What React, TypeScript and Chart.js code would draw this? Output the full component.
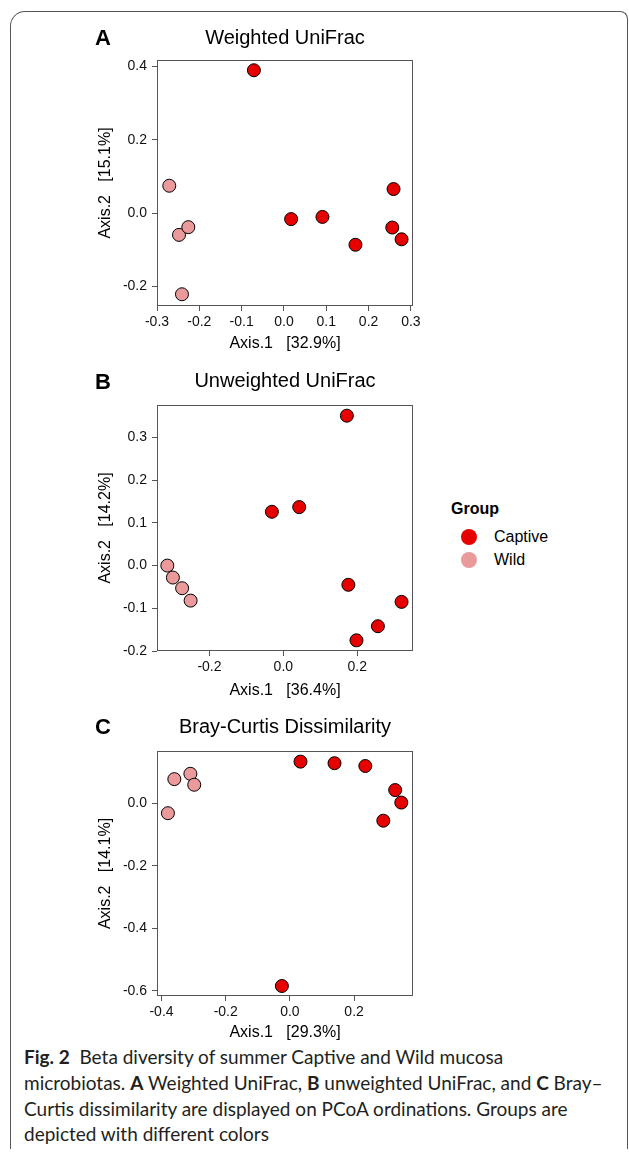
import React, { useEffect, useRef } from "react";
import { Chart, registerables } from "chart.js";

Chart.register(...registerables);

// ---------------- data ----------------
const groups = ["Captive", "Wild"];
const groupColors = ["#E60000", "#EA9A9A"];

// A: Weighted UniFrac
const weightedCaptiveAxis1 = [-0.071, 0.017, 0.091, 0.169, 0.259, 0.256, 0.278];
const weightedCaptiveAxis2 = [0.39, -0.016, -0.01, -0.086, 0.066, -0.039, -0.071];
const weightedWildAxis1 = [-0.271, -0.248, -0.226, -0.241];
const weightedWildAxis2 = [0.075, -0.059, -0.038, -0.221];

// B: Unweighted UniFrac
const unweightedCaptiveAxis1 = [-0.031, 0.043, 0.172, 0.176, 0.32, 0.256, 0.198];
const unweightedCaptiveAxis2 = [0.126, 0.137, 0.351, -0.045, -0.085, -0.142, -0.175];
const unweightedWildAxis1 = [-0.314, -0.299, -0.274, -0.251];
const unweightedWildAxis2 = [0.0, -0.028, -0.053, -0.082];

// C: Bray-Curtis
const brayCaptiveAxis1 = [0.033, 0.139, 0.235, 0.328, 0.347, 0.291, -0.025];
const brayCaptiveAxis2 = [0.133, 0.128, 0.119, 0.042, 0.002, -0.056, -0.585];
const brayWildAxis1 = [-0.38, -0.36, -0.31, -0.298];
const brayWildAxis2 = [-0.032, 0.077, 0.094, 0.059];

// tick labels
const weightedXTicks = [-0.3, -0.2, -0.1, 0.0, 0.1, 0.2, 0.3];
const weightedYTicks = [-0.2, 0.0, 0.2, 0.4];
const unweightedXTicks = [-0.2, 0.0, 0.2];
const unweightedYTicks = [-0.2, -0.1, 0.0, 0.1, 0.2, 0.3];
const brayXTicks = [-0.4, -0.2, 0.0, 0.2];
const brayYTicks = [-0.6, -0.4, -0.2, 0.0];

// axis ranges
const weightedXRange = [-0.3, 0.305];
const weightedYRange = [-0.253, 0.418];
const unweightedXRange = [-0.342, 0.351];
const unweightedYRange = [-0.2, 0.376];
const brayXRange = [-0.414, 0.3835];
const brayYRange = [-0.617, 0.167];

const panelLetters = ["A", "B", "C"];
const panelTitles = ["Weighted UniFrac", "Unweighted UniFrac", "Bray-Curtis Dissimilarity"];
const axis1Titles = ["Axis.1   [32.9%]", "Axis.1   [36.4%]", "Axis.1   [29.3%]"];
const axis2Titles = ["Axis.2   [15.1%]", "Axis.2   [14.2%]", "Axis.2   [14.1%]"];

// ---------------- layout ----------------
const FONT = "'Liberation Sans', Arial, Helvetica, sans-serif";
const CAPTION_FONT = "Lato, 'Open Sans', sans-serif";
const CANVAS_W = 440;
const AREA_LEFT = 157;
const AREA_RIGHT = 413;
const Y_TITLE_X = 105.5;
const AXIS_TITLE_SIZE = 16;
const TITLE_SIZE = 20;
const TICK_SIZE = 14;
const FRAME_COLOR = "#555";

const layouts = [
  { canvasTop: 0, canvasH: 354, areaTop: 60, areaBottom: 306, titleY: 38, xTitleOffset: 37.5, letterY: 38 },
  { canvasTop: 355, canvasH: 346, areaTop: 405, areaBottom: 651, titleY: 381.5, xTitleOffset: 39.5, letterY: 381.7 },
  { canvasTop: 702, canvasH: 342, areaTop: 751, areaBottom: 996, titleY: 727.5, xTitleOffset: 36.5, letterY: 727 },
];

const panels = [
  {
    captive: [weightedCaptiveAxis1, weightedCaptiveAxis2],
    wild: [weightedWildAxis1, weightedWildAxis2],
    xTicks: weightedXTicks, yTicks: weightedYTicks,
    xRange: weightedXRange, yRange: weightedYRange,
  },
  {
    captive: [unweightedCaptiveAxis1, unweightedCaptiveAxis2],
    wild: [unweightedWildAxis1, unweightedWildAxis2],
    xTicks: unweightedXTicks, yTicks: unweightedYTicks,
    xRange: unweightedXRange, yRange: unweightedYRange,
  },
  {
    captive: [brayCaptiveAxis1, brayCaptiveAxis2],
    wild: [brayWildAxis1, brayWildAxis2],
    xTicks: brayXTicks, yTicks: brayYTicks,
    xRange: brayXRange, yRange: brayYRange,
  },
];

const fmt = (v: number) => (Math.abs(v) < 1e-9 ? "0.0" : Number(v).toFixed(1));

const boxPlugin = {
  id: "panelBox",
  beforeDatasetsDraw(chart: any) {
    const { ctx, chartArea: a } = chart;
    ctx.save();
    ctx.strokeStyle = FRAME_COLOR;
    ctx.lineWidth = 1;
    const l = Math.round(a.left) + 0.5;
    const t = Math.round(a.top) + 0.5;
    const r = Math.round(a.right) - 0.5;
    const b = Math.round(a.bottom) - 0.5;
    ctx.strokeRect(l, t, r - l, b - t);
    ctx.restore();
  },
};

function ScatterPanel({ index }: { index: number }) {
  const ref = useRef<HTMLCanvasElement>(null);
  const lay = layouts[index];
  const p = panels[index];
  useEffect(() => {
    if (!ref.current) return;
    const titleLH = TITLE_SIZE * 1.2;
    const axLH = AXIS_TITLE_SIZE * 1.2;
    const titlePadTop = lay.titleY - lay.canvasTop - titleLH / 2;
    const titlePadBottom = lay.areaTop - lay.canvasTop - titlePadTop - titleLH;
    const xScaleH = lay.xTitleOffset + axLH / 2;
    const yScaleW = AREA_LEFT - Y_TITLE_X + axLH / 2;
    const padBottom = lay.canvasTop + lay.canvasH - lay.areaBottom - xScaleH;

    const mk = (xs: number[], ys: number[]) => xs.map((x, i) => ({ x, y: ys[i] }));
    const tickFont = { family: FONT, size: TICK_SIZE };
    const axTitleFont = { family: FONT, size: AXIS_TITLE_SIZE, lineHeight: 1.2 };

    const chart = new Chart(ref.current, {
      type: "scatter",
      data: {
        datasets: [
          {
            label: groups[0],
            data: mk(p.captive[0], p.captive[1]),
            backgroundColor: groupColors[0],
            borderColor: "#000",
            borderWidth: 1,
            pointRadius: 6.5,
            pointHoverRadius: 6.5,
            clip: false,
          },
          {
            label: groups[1],
            data: mk(p.wild[0], p.wild[1]),
            backgroundColor: groupColors[1],
            borderColor: "#000",
            borderWidth: 1,
            pointRadius: 6.5,
            pointHoverRadius: 6.5,
            clip: false,
          },
        ],
      },
      options: {
        responsive: false,
        animation: false,
        events: [],
        layout: {
          padding: {
            left: AREA_LEFT - yScaleW,
            right: CANVAS_W - AREA_RIGHT,
            top: 0,
            bottom: padBottom,
          },
        },
        plugins: {
          legend: { display: false },
          tooltip: { enabled: false },
          title: {
            display: true,
            text: panelTitles[index],
            fullSize: false,
            color: "#000",
            font: { family: FONT, size: TITLE_SIZE, weight: "normal", lineHeight: 1.2 },
            padding: { top: titlePadTop, bottom: titlePadBottom },
          },
        },
        scales: {
          x: {
            type: "linear",
            position: "bottom",
            min: p.xRange[0],
            max: p.xRange[1],
            afterFit: (s: any) => {
              s.height = xScaleH;
            },
            afterBuildTicks: (s: any) => {
              s.ticks = p.xTicks.map((v) => ({ value: v }));
            },
            ticks: {
              autoSkip: false,
              maxRotation: 0,
              minRotation: 0,
              padding: 3,
              color: "#111",
              font: tickFont,
              callback: (v: any) => fmt(Number(v)),
            },
            grid: {
              display: true,
              drawOnChartArea: false,
              drawTicks: true,
              tickLength: 5,
              tickColor: FRAME_COLOR,
              lineWidth: 1,
            },
            border: { display: false },
            title: {
              display: true,
              text: axis1Titles[index],
              color: "#000",
              font: axTitleFont,
              padding: 0,
            },
          },
          y: {
            type: "linear",
            position: "left",
            min: p.yRange[0],
            max: p.yRange[1],
            afterFit: (s: any) => {
              s.width = yScaleW;
            },
            afterBuildTicks: (s: any) => {
              s.ticks = p.yTicks.map((v) => ({ value: v }));
            },
            ticks: {
              autoSkip: false,
              padding: 5,
              color: "#111",
              font: tickFont,
              callback: (v: any) => fmt(Number(v)),
            },
            grid: {
              display: true,
              drawOnChartArea: false,
              drawTicks: true,
              tickLength: 5,
              tickColor: FRAME_COLOR,
              lineWidth: 1,
            },
            border: { display: false },
            title: {
              display: true,
              text: axis2Titles[index],
              color: "#000",
              font: axTitleFont,
              padding: 0,
            },
          },
        },
      },
      plugins: [boxPlugin],
    } as any);
    return () => chart.destroy();
  }, []);
  return (
    <>
      <canvas
        ref={ref}
        width={CANVAS_W}
        height={lay.canvasH}
        style={{ position: "absolute", left: 0, top: lay.canvasTop, display: "block", width: CANVAS_W, height: lay.canvasH }}
      />
      <div
        style={{
          position: "absolute",
          left: 95,
          top: lay.letterY - 0.49 * 22,
          fontFamily: FONT,
          fontWeight: "bold",
          fontSize: 22,
          lineHeight: "22px",
          color: "#000",
        }}
      >
        {panelLetters[index]}
      </div>
    </>
  );
}

function Legend() {
  const rows = [537.3, 560];
  return (
    <div style={{ position: "absolute", left: 0, top: 0, zIndex: 2 }}>
      <div
        style={{
          position: "absolute",
          left: 451,
          top: 509.3 - 0.49 * 16,
          fontFamily: FONT,
          fontWeight: "bold",
          fontSize: 16,
          lineHeight: "16px",
          color: "#000",
          whiteSpace: "nowrap",
        }}
      >
        Group
      </div>
      {groups.map((g, i) => (
        <React.Fragment key={g}>
          <div
            style={{
              position: "absolute",
              left: 469 - 8,
              top: rows[i] - 8,
              width: 16,
              height: 16,
              borderRadius: "50%",
              background: groupColors[i],
            }}
          />
          <div
            style={{
              position: "absolute",
              left: 494,
              top: rows[i] - 0.49 * 16,
              fontFamily: FONT,
              fontSize: 16,
              lineHeight: "16px",
              color: "#000",
              whiteSpace: "nowrap",
            }}
          >
            {g}
          </div>
        </React.Fragment>
      ))}
    </div>
  );
}

function Caption() {
  const lineCenters = [1057, 1083, 1109, 1134];
  const lh = 24;
  const lines: React.ReactNode[] = [
    <>
      <b>Fig. 2</b>&nbsp; Beta diversity of summer Captive and Wild mucosa
    </>,
    <>
      microbiotas. <b>A</b> Weighted UniFrac, <b>B</b> unweighted UniFrac, and <b>C</b> Bray–
    </>,
    <>Curtis dissimilarity are displayed on PCoA ordinations. Groups are</>,
    <>depicted with different colors</>,
  ];
  return (
    <>
      {lines.map((ln, i) => (
        <div
          key={i}
          style={{
            position: "absolute",
            left: 24,
            top: lineCenters[i] - lh / 2,
            height: lh,
            lineHeight: `${lh}px`,
            fontFamily: CAPTION_FONT,
            fontSize: 19,
            color: "#231f20",
            whiteSpace: "nowrap",
          }}
        >
          {ln}
        </div>
      ))}
    </>
  );
}

export default function App() {
  useEffect(() => {
    document.body.style.margin = "0";
    document.body.style.overflow = "hidden";
  }, []);
  return (
    <div style={{ position: "absolute", left: 0, top: 0, width: 629, height: 1159, background: "#fff", overflow: "hidden" }}>
      <div
        style={{
          position: "absolute",
          left: 10,
          top: 11,
          width: 616,
          height: 1137,
          borderTop: `1px solid ${FRAME_COLOR}`,
          borderLeft: `1px solid ${FRAME_COLOR}`,
          borderRight: `1px solid ${FRAME_COLOR}`,
          borderTopLeftRadius: 15,
          borderTopRightRadius: 8,
        }}
      />
      {[0, 1, 2].map((i) => (
        <ScatterPanel key={i} index={i} />
      ))}
      <Legend />
      <Caption />
    </div>
  );
}
